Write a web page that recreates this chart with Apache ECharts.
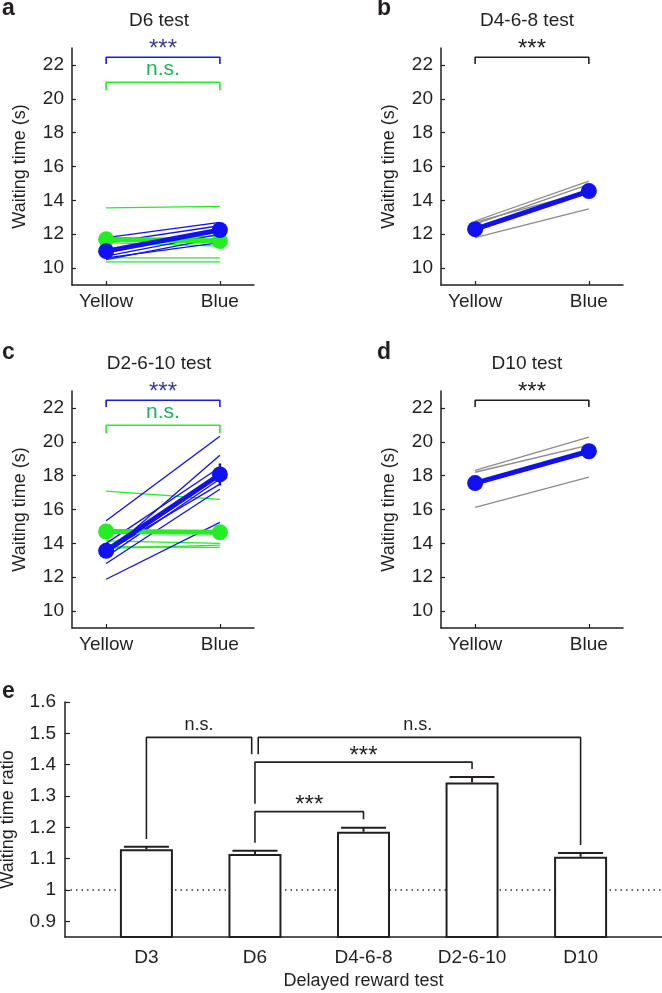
<!DOCTYPE html>
<html><head><meta charset="utf-8">
<script src="https://cdn.jsdelivr.net/npm/echarts@6/dist/echarts.min.js"></script>
<style>html,body{margin:0;padding:0;background:#fff}#c{width:662px;height:993px}</style>
</head><body><div id="c"></div>
<script>
// ---------- data ----------
const xCats = ['Yellow', 'Blue'];
const yTicksAD = [10, 12, 14, 16, 18, 20, 22];
// panel a (D6 test)
const aGreenYellow = [13.55, 10.6, 10.37, 11.6, 11.8, 11.5];
const aGreenBlue   = [13.65, 10.6, 10.37, 11.9, 11.7, 11.3];
const aBlueYellow  = [11.8, 11.5, 10.9, 10.7, 10.5, 10.6];
const aBlueBlue    = [12.7, 12.5, 12.3, 12.0, 11.8, 11.5];
const aGreenMean = [11.7, 11.6], aGreenErr = [0.25, 0.4];
const aBlueMean  = [11.0, 12.25], aBlueErr = [0.25, 0.3];
// panel b (D4-6-8 test)
const bGrayYellow = [12.78, 12.72, 12.6, 11.8, 12.3];
const bGrayBlue   = [15.13, 14.55, 14.94, 13.5, 14.6];
const bBlueMean = [12.3, 14.55], bBlueErr = [0.2, 0.3];
// panel c (D2-6-10 test)
const cBlueYellow = [15.34, 11.88, 12.81, 13.38, 13.7, 13.5, 14.0, 13.2];
const cBlueBlue   = [20.33, 15.24, 17.2, 19.2, 18.0, 17.5, 18.5, 17.8];
const cGreenYellow = [17.08, 14.15, 13.8, 13.7, 14.6, 14.8];
const cGreenBlue   = [16.6, 14.0, 13.76, 13.9, 14.6, 14.7];
const cGreenMean = [14.7, 14.65], cGreenErr = [0.45, 0.4];
const cBlueMean  = [13.56, 18.07], cBlueErr = [0.35, 0.65];
// panel d (D10 test)
const dGrayYellow = [18.31, 18.2, 16.13, 17.6];
const dGrayBlue   = [20.28, 19.8, 17.91, 19.5];
const dBlueMean = [17.56, 19.44], dBlueErr = [0.2, 0.3];
// panel e
const eCats = ['D3', 'D6', 'D4-6-8', 'D2-6-10', 'D10'];
const eRatio = [1.130, 1.115, 1.186, 1.343, 1.106];
const eSem   = [0.008, 0.010, 0.013, 0.018, 0.012];
const eTicks = [0.9, 1, 1.1, 1.2, 1.3, 1.4, 1.5, 1.6];

// ---------- style ----------
const INK = '#231f20', BLUE = '#1010f0', GREEN = '#22ee22', GRAY = '#8a8a8a';
const FONT = 'Liberation Sans, Arial, Helvetica, sans-serif';
const TICK = 19;

const grids = [
  {left: 72, top: 48, width: 182, height: 237},
  {left: 441, top: 48, width: 182, height: 237},
  {left: 72, top: 391, width: 182, height: 237},
  {left: 441, top: 391, width: 182, height: 237},
  {left: 65, top: 702, width: 597, height: 235}
].map(g => Object.assign(g, {outerBoundsMode: 'none', containLabel: false}));

const xAxes = [], yAxes = [];
for (let g = 0; g < 4; g++) {
  xAxes.push({gridIndex: g, type: 'value', min: 0.7, max: 2.3,
    axisLine: {lineStyle: {color: INK, width: 1.5}},
    axisTick: {show: true, inside: true, length: 4, customValues: [1, 2], lineStyle: {color: INK, width: 1.2}},
    axisLabel: {customValues: [1, 2], formatter: v => xCats[Math.round(v) - 1], fontSize: TICK, color: INK, fontFamily: FONT, margin: 7},
    splitLine: {show: false}});
  yAxes.push({gridIndex: g, type: 'value', min: 9, max: 23,
    name: 'Waiting time (s)', nameLocation: 'middle', nameGap: 43,
    nameTextStyle: {fontSize: 18, color: INK, fontFamily: FONT},
    axisLine: {show: true, lineStyle: {color: INK, width: 1.5}},
    axisTick: {show: true, inside: true, length: 4, customValues: yTicksAD, lineStyle: {color: INK, width: 1.2}},
    axisLabel: {customValues: yTicksAD, fontSize: TICK, color: INK, fontFamily: FONT, margin: 8},
    splitLine: {show: false}});
}
xAxes.push({gridIndex: 4, type: 'value', min: 0.25, max: 5.75,
  name: 'Delayed reward test', nameLocation: 'middle', nameGap: 35,
  nameTextStyle: {fontSize: 18, color: INK, fontFamily: FONT},
  axisLine: {lineStyle: {color: INK, width: 1.5}},
  axisTick: {show: false},
  axisLabel: {customValues: [1, 2, 3, 4, 5], formatter: v => eCats[Math.round(v) - 1], fontSize: TICK, color: INK, fontFamily: FONT, margin: 11},
  splitLine: {show: false}});
yAxes.push({gridIndex: 4, type: 'value', min: 0.85, max: 1.6,
  name: 'Waiting time ratio', nameLocation: 'middle', nameGap: 48,
  nameTextStyle: {fontSize: 18, color: INK, fontFamily: FONT},
  axisLine: {show: true, lineStyle: {color: INK, width: 1.5}},
  axisTick: {show: true, inside: true, length: 5, customValues: eTicks, lineStyle: {color: INK, width: 1.2}},
  axisLabel: {customValues: eTicks, fontSize: TICK, color: INK, fontFamily: FONT, margin: 9},
  splitLine: {show: false}});

const series = [];
function pairs(g, ys, bs, color, width, z) {
  ys.forEach((y, i) => series.push({type: 'line', xAxisIndex: g, yAxisIndex: g, z: z, silent: true,
    data: [[1, y], [2, bs[i]]], symbol: 'none', lineStyle: {color: color, width: width}}));
}
function errBars(g, pts, color, width, cap, z) {
  series.push({type: 'custom', xAxisIndex: g, yAxisIndex: g, z: z, silent: true, clip: false,
    data: pts,
    renderItem: function (params, api) {
      const x = api.value(0), lo = api.value(1), hi = api.value(2);
      const p1 = api.coord([x, lo]), p2 = api.coord([x, hi]);
      const ch = [{type: 'line', shape: {x1: p1[0], y1: p1[1], x2: p2[0], y2: p2[1]}, style: {stroke: color, lineWidth: width}}];
      if (cap) ch.push({type: 'line', shape: {x1: p2[0] - cap / 2, y1: p2[1], x2: p2[0] + cap / 2, y2: p2[1]}, style: {stroke: color, lineWidth: width}});
      return {type: 'group', children: ch};
    }});
}
function mean(g, m, err, color, z) {
  errBars(g, [[1, m[0] - err[0], m[0] + err[0]], [2, m[1] - err[1], m[1] + err[1]]], color, 2.5, 0, z);
  series.push({type: 'line', xAxisIndex: g, yAxisIndex: g, z: z + 1, silent: true,
    data: [[1, m[0]], [2, m[1]]], symbol: 'circle', symbolSize: 16,
    itemStyle: {color: color}, lineStyle: {color: color, width: 5}});
}
function bracket(g, pts, color, width) {
  series.push({type: 'line', xAxisIndex: g, yAxisIndex: g, z: 20, silent: true, clip: false,
    data: pts, symbol: 'none', lineStyle: {color: color, width: width}});
}
const labels = [];
function label(g, x, y, text, color, size) { labels.push({g, x, y, text, color, size}); }

// panel a
pairs(0, aGreenYellow, aGreenBlue, GREEN, 1.3, 2);
pairs(0, aBlueYellow, aBlueBlue, BLUE, 1.3, 3);
mean(0, aGreenMean, aGreenErr, GREEN, 4);
mean(0, aBlueMean, aBlueErr, BLUE, 6);
bracket(0, [[1, 22.05], [1, 22.45], [2, 22.45], [2, 22.05]], '#1a1ae6', 1.6);
bracket(0, [[1, 20.5], [1, 20.98], [2, 20.98], [2, 20.5]], GREEN, 1.6);
label(0, 1.5, 22.9, '***', '#3b3b96', 24);
label(0, 1.5, 21.72, 'n.s.', '#1fb25a', 21);
// panel b
pairs(1, bGrayYellow, bGrayBlue, GRAY, 1.3, 2);
mean(1, bBlueMean, bBlueErr, BLUE, 6);
bracket(1, [[1, 22.05], [1, 22.45], [2, 22.45], [2, 22.05]], INK, 1.6);
label(1, 1.5, 22.9, '***', INK, 24);
// panel c
pairs(2, cGreenYellow, cGreenBlue, GREEN, 1.3, 2);
pairs(2, cBlueYellow, cBlueBlue, BLUE, 1.3, 3);
mean(2, cGreenMean, cGreenErr, GREEN, 4);
mean(2, cBlueMean, cBlueErr, BLUE, 6);
bracket(2, [[1, 22.05], [1, 22.45], [2, 22.45], [2, 22.05]], '#1a1ae6', 1.6);
bracket(2, [[1, 20.5], [1, 20.98], [2, 20.98], [2, 20.5]], GREEN, 1.6);
label(2, 1.5, 22.9, '***', '#3b3b96', 24);
label(2, 1.5, 21.72, 'n.s.', '#1fb25a', 21);
// panel d
pairs(3, dGrayYellow, dGrayBlue, GRAY, 1.3, 2);
mean(3, dBlueMean, dBlueErr, BLUE, 6);
bracket(3, [[1, 22.05], [1, 22.45], [2, 22.45], [2, 22.05]], INK, 1.6);
label(3, 1.5, 22.9, '***', INK, 24);
// panel e
series.push({type: 'line', xAxisIndex: 4, yAxisIndex: 4, z: 1, silent: true,
  data: [[0.25, 1], [5.75, 1]], symbol: 'none', lineStyle: {color: '#333', width: 1.5, type: [1.5, 4]}});
series.push({type: 'bar', xAxisIndex: 4, yAxisIndex: 4, z: 3, silent: true, barWidth: 53,
  data: eRatio.map((v, i) => [i + 1, v]),
  itemStyle: {color: '#ffffff', borderColor: INK, borderWidth: 2}});
errBars(4, eRatio.map((v, i) => [i + 1, v, v + eSem[i]]), INK, 2, 45, 4);
bracket(4, [[1, 1.163], [1, 1.487], [1.97, 1.487], [1.97, 1.433]], INK, 1.6);
bracket(4, [[2.03, 1.433], [2.03, 1.487], [5, 1.487], [5, 1.144]], INK, 1.6);
bracket(4, [[2, 1.275], [2, 1.408], [4, 1.408], [4, 1.386]], INK, 1.6);
bracket(4, [[2, 1.151], [2, 1.25], [3, 1.25], [3, 1.226]], INK, 1.6);
label(4, 1.485, 1.527, 'n.s.', INK, 18);
label(4, 3.5, 1.527, 'n.s.', INK, 18);
label(4, 3.0, 1.427, '***', INK, 24);
label(4, 2.5, 1.271, '***', INK, 24);

const txt = (x, y, t, size, bold, color) => ({type: 'text', x: x, y: y, silent: true, z: 50,
  style: {text: t, fill: color || INK, font: (bold ? 'bold ' : '') + size + 'px ' + FONT, textAlign: bold ? 'left' : 'center', textVerticalAlign: 'middle'}});

const chart = echarts.init(document.getElementById('c'), null, {renderer: 'canvas'});
chart.setOption({
  animation: false,
  grid: grids,
  xAxis: xAxes,
  yAxis: yAxes,
  series: series
});
const graphics = [
  txt(2, 9, 'a', 23, true), txt(377, 9, 'b', 23, true),
  txt(2, 353, 'c', 23, true), txt(377, 353, 'd', 23, true),
  txt(2, 692, 'e', 23, true),
  txt(159, 21, 'D6 test', 19), txt(527, 21, 'D4-6-8 test', 19),
  txt(159, 364, 'D2-6-10 test', 19), txt(527, 364, 'D10 test', 19)
];
labels.forEach(l => {
  const p = chart.convertToPixel({xAxisIndex: l.g, yAxisIndex: l.g}, [l.x, l.y]);
  graphics.push(txt(p[0], p[1], l.text, l.size, false, l.color));
});
chart.setOption({graphic: graphics});
</script></body></html>
